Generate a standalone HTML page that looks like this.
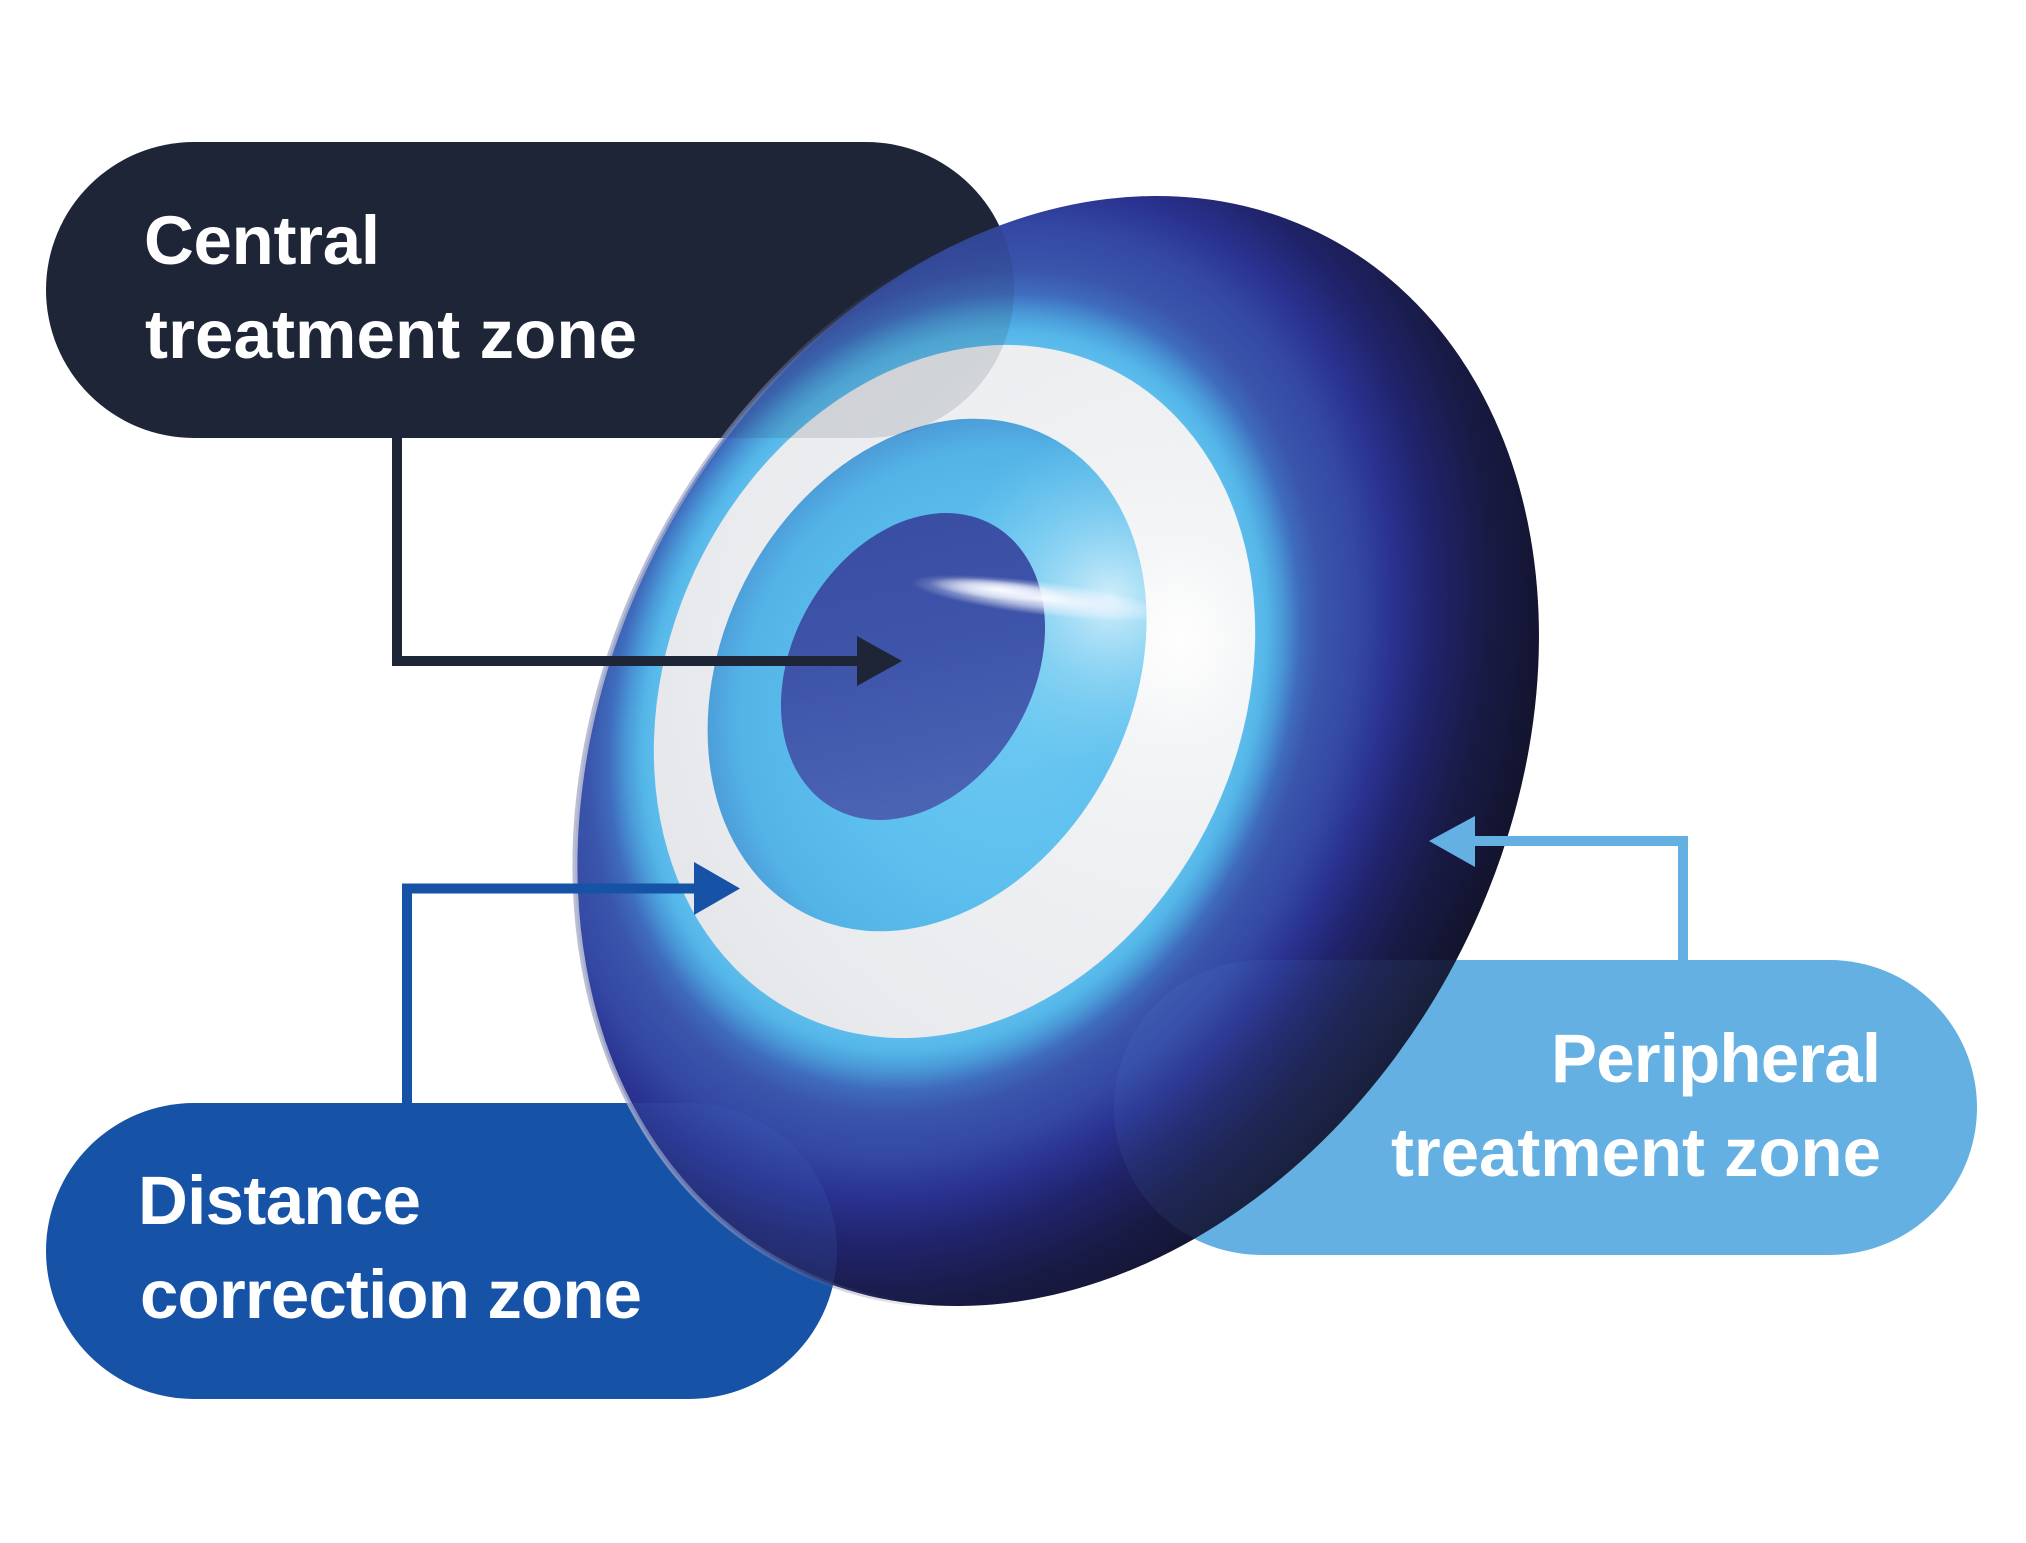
<!DOCTYPE html>
<html>
<head>
<meta charset="utf-8">
<style>
html,body{margin:0;padding:0;background:#ffffff;}
svg{display:block;}
text{font-family:"Liberation Sans", Arial, sans-serif;fill:#ffffff;font-size:69px;font-weight:bold;}
</style>
</head>
<body>
<svg width="2026" height="1543" viewBox="0 0 2026 1543" xmlns="http://www.w3.org/2000/svg">
<defs>
  <radialGradient id="lensGrad" gradientUnits="userSpaceOnUse" cx="0" cy="0" r="2"
     gradientTransform="translate(954.5 691.5) rotate(-64.9) scale(358.4 286.3)">
    <stop offset="0" stop-color="#5cbcec"/>
    <stop offset="0.5" stop-color="#5cbcec"/>
    <stop offset="0.52" stop-color="#54b6e8"/>
    <stop offset="0.545" stop-color="#4a9ad8"/>
    <stop offset="0.575" stop-color="#3f6cbd"/>
    <stop offset="0.61" stop-color="#3a55ab"/>
    <stop offset="0.67" stop-color="#3448a4"/>
    <stop offset="0.73" stop-color="#2a3290"/>
    <stop offset="0.8" stop-color="#20236a"/>
    <stop offset="0.88" stop-color="#191b48"/>
    <stop offset="1" stop-color="#12132a"/>
  </radialGradient>
  <linearGradient id="rimGrad" gradientUnits="userSpaceOnUse" x1="570" y1="0" x2="1100" y2="0">
    <stop offset="0" stop-color="#b8bcd2" stop-opacity="0.95"/>
    <stop offset="0.35" stop-color="#8d96c4" stop-opacity="0.5"/>
    <stop offset="0.7" stop-color="#1a1c40" stop-opacity="0"/>
  </linearGradient>
  <radialGradient id="whiteGrad" gradientUnits="userSpaceOnUse" cx="1170" cy="640" r="560">
    <stop offset="0" stop-color="#f8f9fa"/>
    <stop offset="0.4" stop-color="#eef0f2"/>
    <stop offset="0.8" stop-color="#e9ebee"/>
    <stop offset="1" stop-color="#e4e6ea"/>
  </radialGradient>
  <radialGradient id="cyanGrad" gradientUnits="userSpaceOnUse" cx="1010" cy="720" r="320">
    <stop offset="0" stop-color="#6cc8f1"/>
    <stop offset="0.55" stop-color="#5cbfee"/>
    <stop offset="0.85" stop-color="#53b3e6"/>
    <stop offset="1" stop-color="#4a92d2"/>
  </radialGradient>
  <radialGradient id="cyanHi" gradientUnits="userSpaceOnUse" cx="1110" cy="600" r="170">
    <stop offset="0" stop-color="#d8f1fb" stop-opacity="0.95"/>
    <stop offset="0.5" stop-color="#9bdaf5" stop-opacity="0.6"/>
    <stop offset="1" stop-color="#7fd0f2" stop-opacity="0"/>
  </radialGradient>
  <linearGradient id="innerGrad" x1="0" y1="0" x2="0.2" y2="1">
    <stop offset="0" stop-color="#394ca2"/>
    <stop offset="0.55" stop-color="#3e55aa"/>
    <stop offset="1" stop-color="#4b63b3"/>
  </linearGradient>
  <radialGradient id="streak" cx="0.5" cy="0.5" r="0.5">
    <stop offset="0" stop-color="#ffffff" stop-opacity="0.95"/>
    <stop offset="0.5" stop-color="#f0f4ff" stop-opacity="0.65"/>
    <stop offset="1" stop-color="#ffffff" stop-opacity="0"/>
  </radialGradient>
  <radialGradient id="glow" cx="0.5" cy="0.5" r="0.5">
    <stop offset="0" stop-color="#ffffff" stop-opacity="0.85"/>
    <stop offset="1" stop-color="#ffffff" stop-opacity="0"/>
  </radialGradient>
  <clipPath id="lensClip">
    <path d="M 1327.83 237.32 A 580.7 450.7 -62.2 1 0 786.17 1264.68 A 580.7 450.7 -62.2 1 0 1327.83 237.32 Z"/>
  </clipPath>
</defs>

<rect x="0" y="0" width="2026" height="1543" fill="#ffffff"/>

<!-- Pills -->
<rect x="46" y="142" width="968" height="296" rx="148" ry="148" fill="#1e2537"/>
<rect x="46" y="1103" width="791" height="296" rx="148" ry="148" fill="#1652a6"/>
<rect x="1114" y="960" width="863" height="295" rx="147.5" ry="147.5" fill="#64b0e2"/>

<!-- Lens body -->
<path d="M 1327.83 237.32 A 580.7 450.7 -62.2 1 0 786.17 1264.68 A 580.7 450.7 -62.2 1 0 1327.83 237.32 Z" fill="url(#lensGrad)"/>
<path d="M 1327.83 237.32 A 580.7 450.7 -62.2 1 0 786.17 1264.68 A 580.7 450.7 -62.2 1 0 1327.83 237.32 Z" fill="none" stroke="url(#rimGrad)" stroke-width="5"/>

<!-- White ring -->
<path d="M 1106.53 366.94 A 358.4 286.3 -64.9 1 0 802.47 1016.06 A 358.4 286.3 -64.9 1 0 1106.53 366.94 Z" fill="url(#whiteGrad)"/>
<ellipse cx="1180" cy="640" rx="70" ry="95" fill="url(#glow)"/>
<!-- Cyan ring -->
<path d="M 1048.58 436.39 A 267.8 204.4 -63 1 0 805.42 913.61 A 267.8 204.4 -63 1 0 1048.58 436.39 Z" fill="url(#cyanGrad)"/>
<path d="M 1048.58 436.39 A 267.8 204.4 -63 1 0 805.42 913.61 A 267.8 204.4 -63 1 0 1048.58 436.39 Z" fill="url(#cyanHi)"/>
<!-- Inner dark zone -->
<path d="M 993.07 524.98 A 162.6 120.6 -60.5 1 0 832.93 808.02 A 162.6 120.6 -60.5 1 0 993.07 524.98 Z" fill="url(#innerGrad)"/>

<!-- Highlight streak -->
<ellipse transform="translate(1040 598) rotate(7)" cx="0" cy="0" rx="130" ry="17" fill="url(#streak)"/>
<ellipse transform="translate(1000 590) rotate(6)" cx="0" cy="0" rx="70" ry="10" fill="url(#streak)"/>

<!-- Pills seen through the lens -->
<g clip-path="url(#lensClip)">
  <rect x="46" y="142" width="968" height="296" rx="148" ry="148" fill="#1e2537" opacity="0.13"/>
  <rect x="46" y="1103" width="791" height="296" rx="148" ry="148" fill="#3a62b8" opacity="0.2"/>
  <rect x="1114" y="960" width="863" height="295" rx="147.5" ry="147.5" fill="#64b0e2" opacity="0.08"/>
</g>

<!-- Connectors -->
<polyline points="397,430 397,661 862,661" fill="none" stroke="#1e2537" stroke-width="10" stroke-linejoin="miter"/>
<polygon points="857,636 857,686 902,661" fill="#1e2537"/>

<polyline points="407,1110 407,888.5 700,888.5" fill="none" stroke="#1652a6" stroke-width="10" stroke-linejoin="miter"/>
<polygon points="694,862 694,915 740,888.5" fill="#1652a6"/>

<polyline points="1683,968 1683,841 1470,841" fill="none" stroke="#64b0e2" stroke-width="10" stroke-linejoin="miter"/>
<polygon points="1475,816 1475,867 1429,841" fill="#64b0e2"/>

<!-- Labels -->
<text x="144" y="264" textLength="236" lengthAdjust="spacing">Central</text>
<text x="145" y="358" textLength="492" lengthAdjust="spacing">treatment zone</text>

<text x="138" y="1224" textLength="283" lengthAdjust="spacing">Distance</text>
<text x="140" y="1318" textLength="502" lengthAdjust="spacing">correction zone</text>

<text x="1551" y="1082" textLength="330" lengthAdjust="spacing">Peripheral</text>
<text x="1391" y="1176" textLength="490" lengthAdjust="spacing">treatment zone</text>
</svg>
</body>
</html>
